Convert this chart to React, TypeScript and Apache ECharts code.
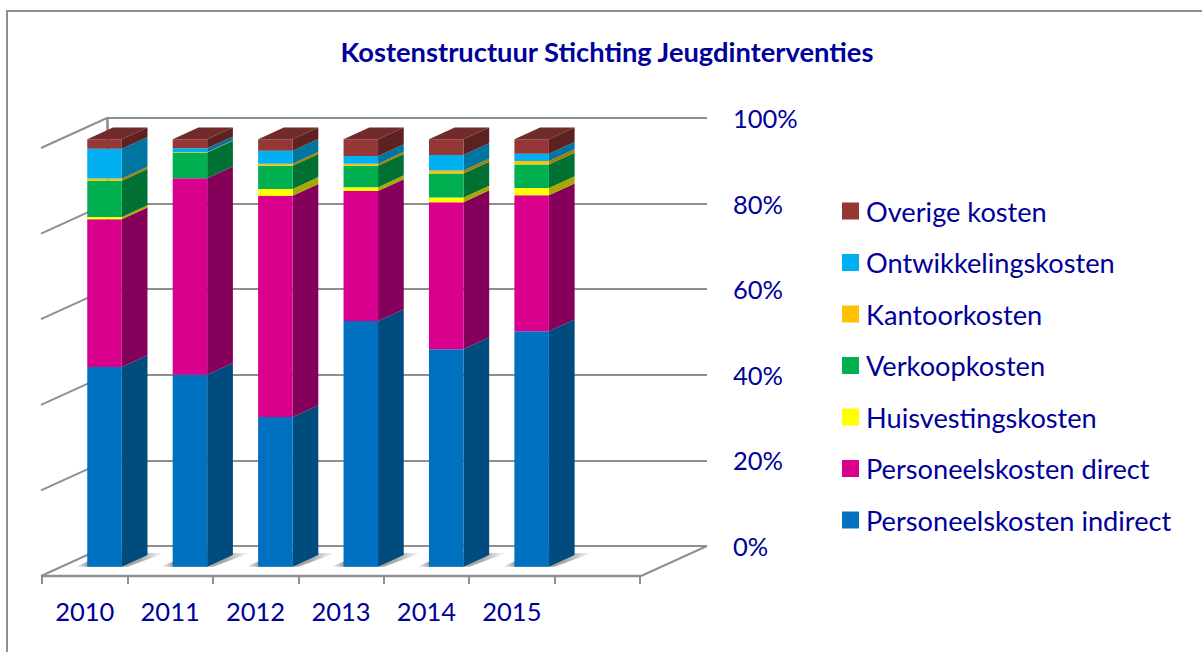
import React, { useEffect, useRef } from "react";
import * as echarts from "echarts";

const title = "Kostenstructuur Stichting Jeugdinterventies";
const years = ["2010", "2011", "2012", "2013", "2014", "2015", ""];
const tickValues = [0, 20, 40, 60, 80, 100];

const indirect = [46.7, 44.9, 35.0, 57.5, 50.9, 55.1];
const direct = [34.6, 46.0, 51.8, 30.4, 34.4, 31.8];
const huisvesting = [0.5, 0, 1.6, 0.9, 1.1, 1.7];
const verkoop = [8.5, 6.0, 5.4, 5.0, 5.6, 5.5];
const kantoor = [0.5, 0.1, 0.5, 0.5, 0.7, 0.8];
const ontwikkeling = [7.0, 0.9, 3.0, 1.8, 3.6, 1.7];
const overige = [2.2, 2.1, 2.7, 3.9, 3.7, 3.4];

const stack = [
  { name: "Personeelskosten indirect", values: indirect, front: "#0070C0", side: "#004C7F" },
  { name: "Personeelskosten direct", values: direct, front: "#D9008D", side: "#85005A" },
  { name: "Huisvestingskosten", values: huisvesting, front: "#FFFF00", side: "#A8A800" },
  { name: "Verkoopkosten", values: verkoop, front: "#00B050", side: "#007033" },
  { name: "Kantoorkosten", values: kantoor, front: "#FFC000", side: "#A88000" },
  { name: "Ontwikkelingskosten", values: ontwikkeling, front: "#00B0F0", side: "#0075A0" },
  { name: "Overige kosten", values: overige, front: "#953735", side: "#5E2121", top: "#702B2A" },
];

const TEXT = "#00009A";
const GREY = "#8F8F8F";
const FONT = "Lato";
const DX = 25.7;
const DY = -11.8;
const BAR_FRACTION = 0.404;
const WALL_DX = -66;
const WALL_DY = 30;

function buildOption() {
  const wallSeries = {
    type: "custom",
    xAxisIndex: 1,
    yAxisIndex: 1,
    silent: true,
    z: 1,
    data: tickValues.map((v) => [0, v]),
    renderItem: (_: any, api: any) => {
      const p = api.coord([api.value(0), api.value(1)]);
      const children: any[] = [
        {
          type: "line",
          shape: { x1: p[0], y1: p[1], x2: p[0] + WALL_DX, y2: p[1] + WALL_DY },
          style: { stroke: GREY, lineWidth: 2 },
        },
      ];
      if (api.value(1) === 0) {
        const q = api.coord([1, 0]);
        children.push({
          type: "line",
          shape: { x1: q[0], y1: q[1], x2: q[0] + WALL_DX, y2: q[1] + WALL_DY },
          style: { stroke: GREY, lineWidth: 2 },
        });
      }
      return { type: "group", children };
    },
  };

  const shadowSeries = {
    type: "custom",
    xAxisIndex: 2,
    yAxisIndex: 2,
    silent: true,
    z: 2,
    data: indirect.map((_, i) => [i, 0]),
    renderItem: (_: any, api: any) => {
      const c = api.coord([api.value(0), 0]);
      const w = api.size([1, 0])[0] * BAR_FRACTION;
      const x0 = c[0] - w / 2;
      const x1 = c[0] + w / 2;
      const y = c[1];
      return {
        type: "polygon",
        shape: {
          points: [
            [x0 - 12, y],
            [x1 + 6, y],
            [x1 + DX + 17, y + DY - 2],
            [x0 + 20, y + DY - 2],
          ],
        },
        style: {
          fill: new echarts.graphic.LinearGradient(0, 0, 1, 0, [
            { offset: 0, color: "#FFFFFF" },
            { offset: 0.14, color: "#A0A0A0" },
            { offset: 0.72, color: "#A8A8A8" },
            { offset: 1, color: "#FFFFFF" },
          ]),
        },
      };
    },
  };

  const barSeries = stack.map((s, si) => ({
    type: "custom",
    name: s.name,
    xAxisIndex: 2,
    yAxisIndex: 2,
    silent: true,
    z: 3 + si,
    itemStyle: { color: s.front },
    encode: { x: 0, y: [1, 2] },
    data: s.values.map((v, i) => {
      let base = 0;
      for (let k = 0; k < si; k++) base += stack[k].values[i];
      return [i, base, base + v];
    }),
    renderItem: (_: any, api: any) => {
      const cat = api.value(0);
      const lo = api.coord([cat, api.value(1)]);
      const hi = api.coord([cat, api.value(2)]);
      const w = api.size([1, 0])[0] * BAR_FRACTION;
      const x0 = lo[0] - w / 2;
      const x1 = lo[0] + w / 2;
      const children: any[] = [
        {
          type: "polygon",
          shape: {
            points: [
              [x1, lo[1]],
              [x1 + DX, lo[1] + DY],
              [x1 + DX, hi[1] + DY],
              [x1, hi[1]],
            ],
          },
          style: { fill: s.side },
        },
        {
          type: "rect",
          shape: { x: x0, y: hi[1], width: w, height: lo[1] - hi[1] },
          style: { fill: s.front },
        },
      ];
      if (s.top) {
        children.push({
          type: "polygon",
          shape: {
            points: [
              [x0, hi[1]],
              [x1, hi[1]],
              [x1 + DX, hi[1] + DY],
              [x0 + DX, hi[1] + DY],
            ],
          },
          style: { fill: s.top },
        });
      }
      return { type: "group", children };
    },
  }));

  return {
    animation: false,
    backgroundColor: "#FFFFFF",
    title: {
      text: title,
      left: 602,
      top: 33,
      textAlign: "center",
      textStyle: { color: TEXT, fontFamily: FONT, fontWeight: "bold", fontSize: 27.3 },
    },
    legend: {
      orient: "vertical",
      left: 837,
      top: 190,
      itemWidth: 17,
      itemHeight: 17,
      itemGap: 19.5,
      icon: "rect",
      selectedMode: false,
      data: [...stack].reverse().map((s) => s.name),
      textStyle: { color: TEXT, fontFamily: FONT, fontSize: 27.2, padding: [0, 0, 2, 2], lineHeight: 30 },
    },
    grid: [
      { left: 42, width: 598, top: 148, height: 428 },
      { left: 107, width: 600, top: 118, height: 428 },
      { left: 61.8, width: 598, top: 139.3, height: 427.4 },
    ],
    xAxis: [
      {
        gridIndex: 0,
        type: "category",
        data: years,
        axisLine: { lineStyle: { color: GREY, width: 2.4 } },
        axisTick: { show: true, length: 8, alignWithLabel: false, lineStyle: { color: GREY, width: 2 } },
        axisLabel: { color: TEXT, fontFamily: FONT, fontSize: 25.5, margin: 22, interval: 0 },
        splitLine: { show: false },
      },
      { gridIndex: 1, type: "value", min: 0, max: 1, show: false },
      { gridIndex: 2, type: "category", data: years, show: false },
    ],
    yAxis: [
      { gridIndex: 0, type: "value", min: 0, max: 100, show: false },
      {
        gridIndex: 1,
        type: "value",
        position: "right",
        min: 0,
        max: 100,
        interval: 20,
        axisLine: { show: true, lineStyle: { color: GREY, width: 2.6 } },
        axisTick: { show: true, length: 8, lineStyle: { color: GREY, width: 2 } },
        axisLabel: { color: TEXT, fontFamily: FONT, fontSize: 25.5, margin: 26, formatter: "{value}%" },
        splitLine: { show: true, lineStyle: { color: GREY, width: 2 } },
      },
      { gridIndex: 2, type: "value", min: 0, max: 100, show: false },
    ],
    graphic: [
      { type: "line", shape: { x1: 7, y1: 11, x2: 1202, y2: 11 }, style: { stroke: GREY, lineWidth: 2 } },
      { type: "line", shape: { x1: 7, y1: 10, x2: 7, y2: 652 }, style: { stroke: GREY, lineWidth: 2 } },
    ],
    series: [wallSeries, shadowSeries, ...barSeries],
  };
}

export default function App() {
  const ref = useRef<HTMLDivElement>(null);
  useEffect(() => {
    const chart = echarts.init(ref.current!, undefined, { renderer: "svg" });
    chart.setOption(buildOption() as any);
    return () => chart.dispose();
  }, []);
  return <div ref={ref} style={{ position: "absolute", left: 0, top: 0, width: 1202, height: 652 }} />;
}
